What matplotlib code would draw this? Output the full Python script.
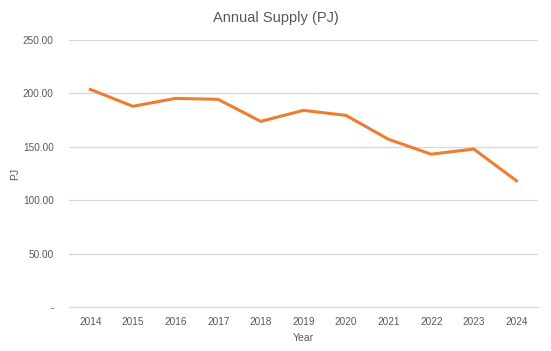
import matplotlib
matplotlib.use('Agg')
import matplotlib.pyplot as plt
from matplotlib.ticker import FuncFormatter

# Annual supply values (PJ)
years = ['2014', '2015', '2016', '2017', '2018', '2019', '2020', '2021', '2022', '2023', '2024']
supply = [203.8, 188.0, 195.4, 194.5, 173.9, 184.2, 179.5, 157.1, 143.2, 148.0, 118.4]

plt.rcParams['font.family'] = ['Liberation Sans', 'DejaVu Sans']
text_gray = '#595959'

fig = plt.figure(figsize=(5.51, 3.51), dpi=100)
ax = fig.add_axes([0.1252, 0.1245, 0.8507, 0.7615])

x = list(range(len(years)))
ax.plot(x, supply, color='#ED7D31', linewidth=2.2, solid_joinstyle='round', zorder=3)

ax.set_xlim(-0.5, len(years) - 0.5)
ax.set_ylim(0, 250)
ax.set_yticks([0, 50, 100, 150, 200, 250])
ax.yaxis.set_major_formatter(FuncFormatter(lambda v, p: '-' if v == 0 else f'{v:.2f}'))
ax.set_xticks(x)
ax.set_xticklabels(years)

ax.grid(axis='y', color='#D9D9D9', linewidth=0.9)
ax.set_axisbelow(True)
for s in ['top', 'right', 'left']:
    ax.spines[s].set_visible(False)
ax.spines['bottom'].set_color('#D9D9D9')
ax.spines['bottom'].set_linewidth(0.9)
ax.tick_params(axis='both', length=0, labelsize=7.2, colors=text_gray)
ax.tick_params(axis='y', pad=11)
ax.tick_params(axis='x', pad=7)

ax.set_xlabel('Year', fontsize=7.5, color=text_gray, labelpad=4)
ax.set_ylabel('PJ', fontsize=7.5, color=text_gray)
ax.yaxis.set_label_coords(-0.105, 0.5)
fig.suptitle('Annual Supply (PJ)', fontsize=10.5, color=text_gray, y=0.97)

plt.savefig('out.png', dpi=100)
